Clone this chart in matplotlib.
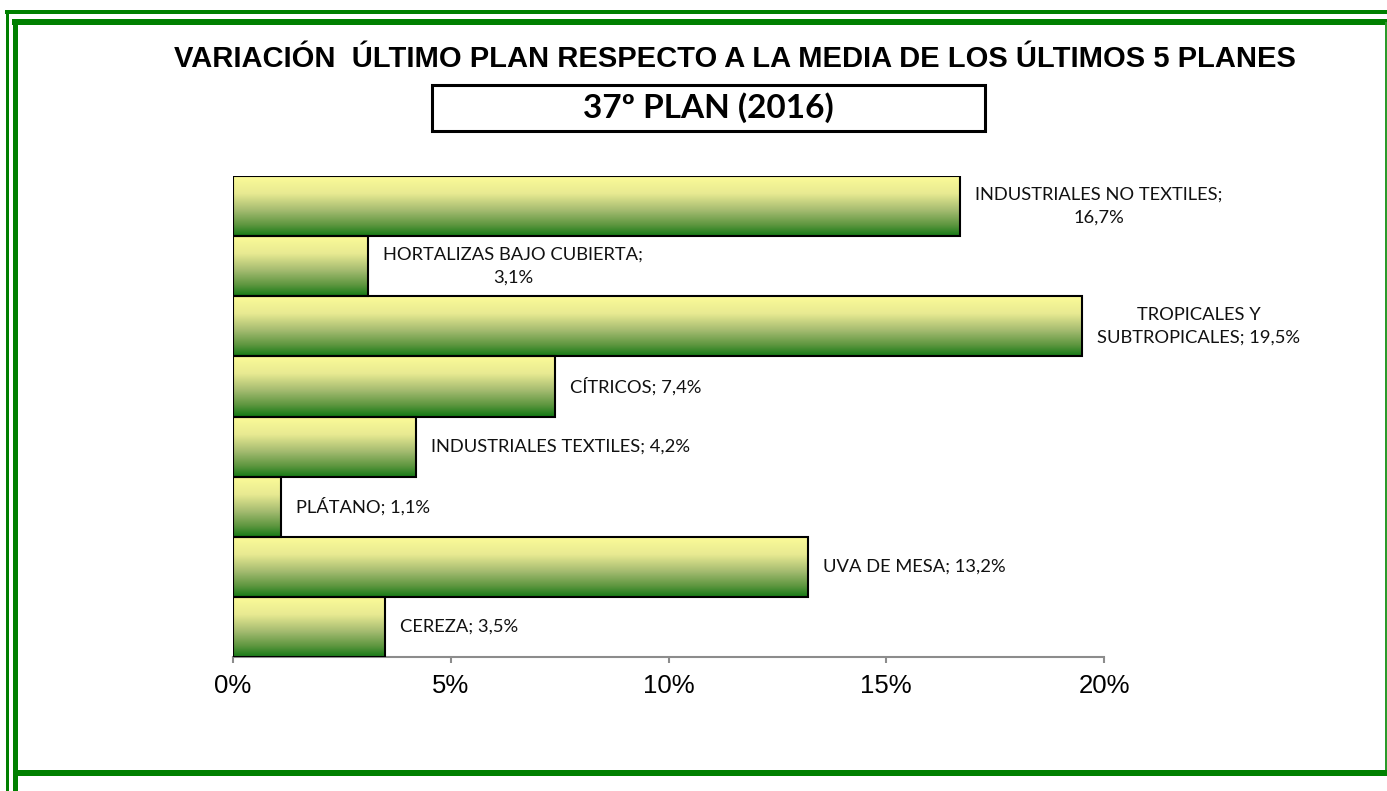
import numpy as np
import matplotlib
matplotlib.use("Agg")
import matplotlib.pyplot as plt
from matplotlib.colors import LinearSegmentedColormap
from matplotlib.patches import Rectangle
from matplotlib.lines import Line2D
from matplotlib.ticker import FuncFormatter

# ---------------- data ----------------
categories = ["INDUSTRIALES NO TEXTILES", "HORTALIZAS BAJO CUBIERTA",
              "TROPICALES Y SUBTROPICALES", "CÍTRICOS", "INDUSTRIALES TEXTILES",
              "PLÁTANO", "UVA DE MESA", "CEREZA"]
values = [16.7, 3.1, 19.5, 7.4, 4.2, 1.1, 13.2, 3.5]
label_texts = ["INDUSTRIALES NO TEXTILES;\n16,7%",
               "HORTALIZAS BAJO CUBIERTA;\n3,1%",
               "TROPICALES Y\nSUBTROPICALES; 19,5%",
               "CÍTRICOS; 7,4%",
               "INDUSTRIALES TEXTILES; 4,2%",
               "PLÁTANO; 1,1%",
               "UVA DE MESA; 13,2%",
               "CEREZA; 3,5%"]
x_ticks = [0, 5, 10, 15, 20]
title = "VARIACIÓN  ÚLTIMO PLAN RESPECTO A LA MEDIA DE LOS ÚLTIMOS 5 PLANES"
subtitle = "37º PLAN (2016)"

W, H = 1387, 791
fig = plt.figure(figsize=(W / 100, H / 100), dpi=100)
fig.patch.set_facecolor("white")

def fx(x):
    return x / W

def fy(y):
    return 1 - y / H

ax = fig.add_axes([fx(233), fy(657), (1104 - 233) / W, (657 - 176) / H])

cmap = LinearSegmentedColormap.from_list(
    "yg", [(0.0, "#fcfc98"), (0.3, "#e8ea92"), (0.58, "#a4bb70"),
           (0.82, "#5d963f"), (1.0, "#157a15")])
grad = np.linspace(0, 1, 256).reshape(-1, 1)

n = len(values)
ypos = np.arange(n)
for y, v in zip(ypos, values):
    ax.imshow(grad, cmap=cmap, aspect="auto", interpolation="bilinear",
              extent=[0, v, y + 0.5, y - 0.5], zorder=2)
ax.barh(ypos, values, height=1.0, facecolor="none", edgecolor="black",
        linewidth=1.5, zorder=3)

ax.set_xlim(0, 20)
ax.set_ylim(n - 0.5, -0.5)
ax.set_aspect("auto")

for y, v, t in zip(ypos, values, label_texts):
    ax.annotate(t, xy=(v, y), xytext=(15, 0), textcoords="offset pixels",
                ha="left", va="center", multialignment="center",
                fontsize=13.2, family="Lato", color="#111111",
                linespacing=1.55, annotation_clip=False, zorder=4)

for s in ["left", "right", "top"]:
    ax.spines[s].set_visible(False)
ax.spines["bottom"].set_color("#8c8c8c")
ax.spines["bottom"].set_linewidth(1.5)
ax.set_yticks([])
ax.set_xticks(x_ticks)
ax.xaxis.set_major_formatter(FuncFormatter(lambda v, p: f"{v:.0f}%"))
ax.tick_params(axis="x", colors="#8c8c8c", length=4, width=1.5,
               pad=8, labelsize=18.5, labelcolor="black")
for lbl in ax.get_xticklabels():
    lbl.set_family("Liberation Sans")

# titles
fig.text(fx(735), fy(59), title, ha="center", va="center",
         fontsize=21, fontweight="bold", family="Liberation Sans")
fig.add_artist(Rectangle((fx(432), fy(131)), (985 - 432) / W, (131 - 85) / H,
                         transform=fig.transFigure, facecolor="white",
                         edgecolor="black", linewidth=2.2))
fig.text(fx(708.5), fy(108), subtitle, ha="center", va="center",
         fontsize=24, fontweight="bold", family="Lato")

# frame lines
green = "#008000"
def hline(y, x0, x1, lw, c=green):
    fig.add_artist(Line2D([fx(x0), fx(x1)], [fy(y), fy(y)],
                          transform=fig.transFigure, color=c, linewidth=lw,
                          solid_capstyle="butt"))

def vline(x, y0, y1, lw, c=green):
    fig.add_artist(Line2D([fx(x), fx(x)], [fy(y0), fy(y1)],
                          transform=fig.transFigure, color=c, linewidth=lw,
                          solid_capstyle="butt"))

hline(12, 5, W, 4 * 0.72)
vline(6.5, 10, H, 3 * 0.72)
hline(22, 12, W, 6 * 0.72)
vline(14.5, 19, H, 5 * 0.72)
vline(1386, 22, 776, 2 * 0.72, c="#2a9a2a")
hline(773, 17, W, 6 * 0.72)

fig.savefig("out.png", dpi=100)
